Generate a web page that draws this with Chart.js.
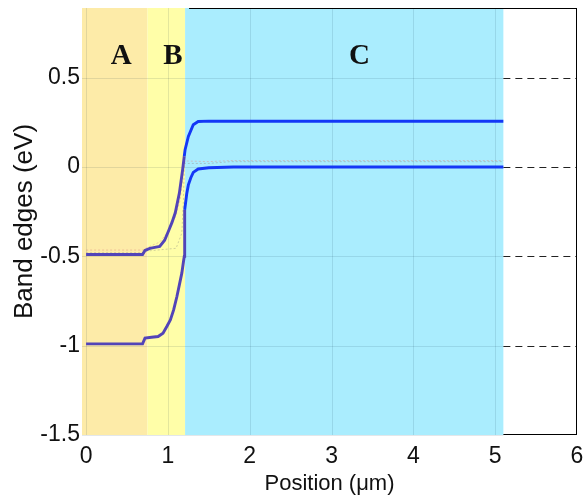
<!DOCTYPE html>
<html><head><meta charset="utf-8">
<script src="https://cdn.jsdelivr.net/npm/chart.js@4.4.1/dist/chart.umd.min.js"></script>
<style>html,body{margin:0;padding:0;background:#fff}canvas{display:block}</style>
</head><body>
<canvas id="c" width="585" height="502"></canvas>
<script>
// ---- data ----
const xTicks = [0, 1, 2, 3, 4, 5, 6];
const yTicks = [-1.5, -1, -0.5, 0, 0.5];
const regionNames = ['A', 'B', 'C'];
const regionStart = [-0.05, 0.75, 1.21];
const regionEnd = [0.75, 1.21, 5.1];

// conduction band edge (upper curve)
const ecX = [0, 0.69, 0.72, 0.78, 0.84, 0.90, 0.96, 1.01, 1.05, 1.09, 1.14, 1.18, 1.20, 1.21, 1.25, 1.31, 1.37, 1.5, 5.1];
const ecY = [-0.49, -0.49, -0.467, -0.455, -0.45, -0.445, -0.41, -0.355, -0.31, -0.256, -0.146, -0.015, 0.06, 0.097, 0.171, 0.237, 0.255, 0.257, 0.256];
// valence band edge (lower curve)
const evX = [0, 0.69, 0.72, 0.80, 0.88, 0.94, 0.99, 1.03, 1.07, 1.11, 1.14, 1.17, 1.19, 1.20, 1.205, 1.23, 1.25, 1.28, 1.31, 1.37, 1.5, 1.8, 5.1];
const evY = [-0.99, -0.99, -0.958, -0.953, -0.949, -0.93, -0.89, -0.856, -0.8, -0.725, -0.66, -0.594, -0.53, -0.5, -0.24, -0.15, -0.1, -0.06, -0.03, -0.011, -0.004, 0, 0];
// faint quasi-Fermi levels
const fnX = [0, 0.7, 0.75, 0.9, 0.99, 1.09, 1.15, 1.19, 1.21, 1.5, 1.76, 5.1];
const fnY = [-0.465, -0.465, -0.45, -0.42, -0.37, -0.28, -0.185, -0.017, 0.034, 0.03, 0.036, 0.036];
const fpX = [0, 0.7, 0.75, 1.1, 1.17, 1.19, 1.2, 1.5, 1.76, 5.1];
const fpY = [-0.48, -0.48, -0.47, -0.455, -0.37, -0.185, 0.02, 0.02, 0.03, 0.03];

// ---- styles / annotation placement ----
const regionColors = ['#fdeba8', '#fffea8', '#aaedfe'];
const regionLabelX = [0.43, 1.06, 3.34];
const regionLabelY = 0.62;
const PURPLE = '#5244b8';
const BLUE = '#1438f6';

const pts = (xs, ys) => xs.map((x, i) => ({x: x, y: ys[i]}));
const segColor = c => (c.p1.parsed.x <= 1.205 ? PURPLE : BLUE);

const bandsPlugin = {
  id: 'bands',
  beforeDatasetsDraw(chart) {
    const {ctx, chartArea: ca, scales: {x, y}} = chart;
    ctx.save();
    regionNames.forEach((n, i) => {
      const x0 = x.getPixelForValue(regionStart[i]);
      const x1 = x.getPixelForValue(regionEnd[i]);
      ctx.fillStyle = regionColors[i];
      ctx.fillRect(x0, ca.top, x1 - x0, ca.bottom - ca.top);
    });
    const xe = x.getPixelForValue(regionEnd[regionEnd.length - 1]);
    ctx.strokeStyle = 'rgba(0,40,60,0.11)';
    ctx.lineWidth = 1;
    yTicks.forEach(v => {
      const py = Math.round(y.getPixelForValue(v)) + 0.5;
      ctx.beginPath(); ctx.moveTo(ca.left, py); ctx.lineTo(xe, py); ctx.stroke();
    });
    xTicks.forEach(v => {
      if (v >= 6) return;
      const px = Math.round(x.getPixelForValue(v)) + 0.5;
      ctx.beginPath(); ctx.moveTo(px, ca.top); ctx.lineTo(px, ca.bottom); ctx.stroke();
    });
    ctx.strokeStyle = '#222';
    ctx.setLineDash([7, 5]);
    yTicks.forEach(v => {
      if (v === y.min) return;
      const py = Math.round(y.getPixelForValue(v)) + 0.5;
      ctx.beginPath(); ctx.moveTo(xe, py); ctx.lineTo(ca.right, py); ctx.stroke();
    });
    ctx.setLineDash([]);
    ctx.strokeStyle = '#000';
    const xr = Math.round(ca.right) - 0.5;
    const yb = Math.round(ca.bottom) - 0.5;
    const yt = Math.round(ca.top) + 0.5;
    ctx.beginPath(); ctx.moveTo(xr, ca.top); ctx.lineTo(xr, ca.bottom); ctx.stroke();
    ctx.beginPath(); ctx.moveTo(xe, yb); ctx.lineTo(ca.right, yb); ctx.stroke();
    ctx.beginPath(); ctx.moveTo(x.getPixelForValue(regionStart[2]) + 4, yt); ctx.lineTo(ca.right, yt); ctx.stroke();
    ctx.restore();
  },
  afterDatasetsDraw(chart) {
    const {ctx, scales: {x, y}} = chart;
    ctx.save();
    ctx.fillStyle = '#111';
    ctx.font = 'bold 29px "Liberation Serif", "Times New Roman", serif';
    ctx.textAlign = 'center';
    ctx.textBaseline = 'middle';
    regionNames.forEach((n, i) => {
      ctx.fillText(n, x.getPixelForValue(regionLabelX[i]), y.getPixelForValue(regionLabelY));
    });
    ctx.restore();
  }
};

const tickFont = {family: '"Liberation Sans", Arial, sans-serif', size: 23};

new Chart(document.getElementById('c'), {
  type: 'line',
  data: {
    datasets: [
      {data: pts(ecX, ecY), borderWidth: 2.9, borderColor: BLUE, segment: {borderColor: segColor}, pointRadius: 0, tension: 0},
      {data: pts(evX, evY), borderWidth: 2.9, borderColor: BLUE, segment: {borderColor: segColor}, pointRadius: 0, tension: 0},
      {data: pts(fnX, fnY), borderWidth: 1, borderColor: 'rgba(225,140,130,0.45)', borderDash: [2, 2], pointRadius: 0, tension: 0},
      {data: pts(fpX, fpY), borderWidth: 1, borderColor: 'rgba(140,140,130,0.4)', borderDash: [2, 2], pointRadius: 0, tension: 0}
    ]
  },
  options: {
    responsive: false,
    animation: false,
    devicePixelRatio: 1,
    layout: {padding: {left: 0, right: 8, top: 8, bottom: 0}},
    plugins: {legend: {display: false}, tooltip: {enabled: false}},
    scales: {
      x: {
        type: 'linear', min: -0.05, max: 6,
        grid: {display: false, drawTicks: false},
        border: {display: false},
        afterBuildTicks: s => { s.ticks = xTicks.map(v => ({value: v})); },
        afterFit: s => { s.height = 67; s.paddingLeft = 0; s.paddingRight = 0; },
        ticks: {font: tickFont, color: '#111', padding: 8, maxRotation: 0, callback: v => String(v)},
        title: {display: true, text: 'Position (\u03bcm)', font: {family: '"Liberation Sans", Arial, sans-serif', size: 22}, color: '#111', padding: {top: 0, bottom: 5}}
      },
      y: {
        type: 'linear', min: -1.5, max: 0.89,
        grid: {display: false, drawTicks: false},
        border: {display: false},
        afterBuildTicks: s => { s.ticks = yTicks.map(v => ({value: v})); },
        afterFit: s => { s.width = 82; s.paddingTop = 0; s.paddingBottom = 0; },
        ticks: {font: tickFont, color: '#111', padding: 2, callback: v => String(v)},
        title: {display: true, text: 'Band edges (eV)', font: {family: '"Liberation Sans", Arial, sans-serif', size: 26}, color: '#111', padding: {top: 9, bottom: 0}}
      }
    }
  },
  plugins: [bandsPlugin]
});
</script>
</body></html>
